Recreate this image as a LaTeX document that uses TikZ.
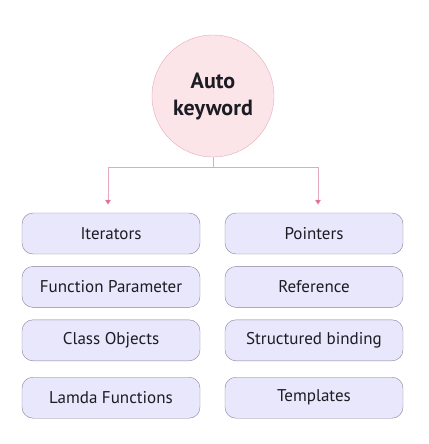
\documentclass[tikz,border=0pt]{standalone}
\usepackage{fontspec}
\setmainfont{PT Sans}
\usetikzlibrary{positioning,arrows.meta}
\definecolor{Pink}{RGB}{252,229,233}
\definecolor{PinkLine}{RGB}{228,170,188}
\definecolor{PinkTip}{RGB}{226,104,142}
\definecolor{Lav}{RGB}{233,231,251}
\definecolor{LavLine}{RGB}{138,128,160}
\definecolor{Ink}{RGB}{28,28,36}

\begin{document}
\begin{tikzpicture}[x=1pt,y=-1pt,node distance=12pt,
 s/.style={rounded corners=11pt,draw=LavLine,fill=Lav,text=Ink,minimum width=178pt,minimum height=41pt,align=center,font=\fontsize{17}{19}\selectfont},
 c/.style={circle,draw=PinkLine,fill=Pink,text=Ink,minimum size=122pt,align=center,font=\fontsize{22}{27}\selectfont\bfseries},
 l/.style={PinkLine,thin},
 a/.style={-{Triangle[length=5pt,width=6pt,fill=PinkTip]},PinkLine,thin}]
\useasboundingbox (0,0) rectangle (428,444);
\node[c] (auto) at (213,96) {Auto\\keyword};
\node[s] (it) at (111,233.5) {Iterators};
\node[s,below=of it] (fp) {Function Parameter};
\node[s,below=of fp] (co) {Class Objects};
\node[s,below=16pt of co] (lf) {Lamda Functions};
\node[s] (pt) at (314,233.5) {Pointers};
\node[s,below=of pt] (rf) {Reference};
\node[s,below=of rf] (sb) {Structured binding};
\node[s,below=16pt of sb] (tp) {Templates};
\coordinate (j) at (213,167);
\draw[l] (auto)--(j);
\draw[a] (j) -| ([xshift=-3pt,yshift=8pt]it.north);
\draw[a] (j) -| ([xshift=4pt,yshift=8pt]pt.north);
\end{tikzpicture}
\end{document}
